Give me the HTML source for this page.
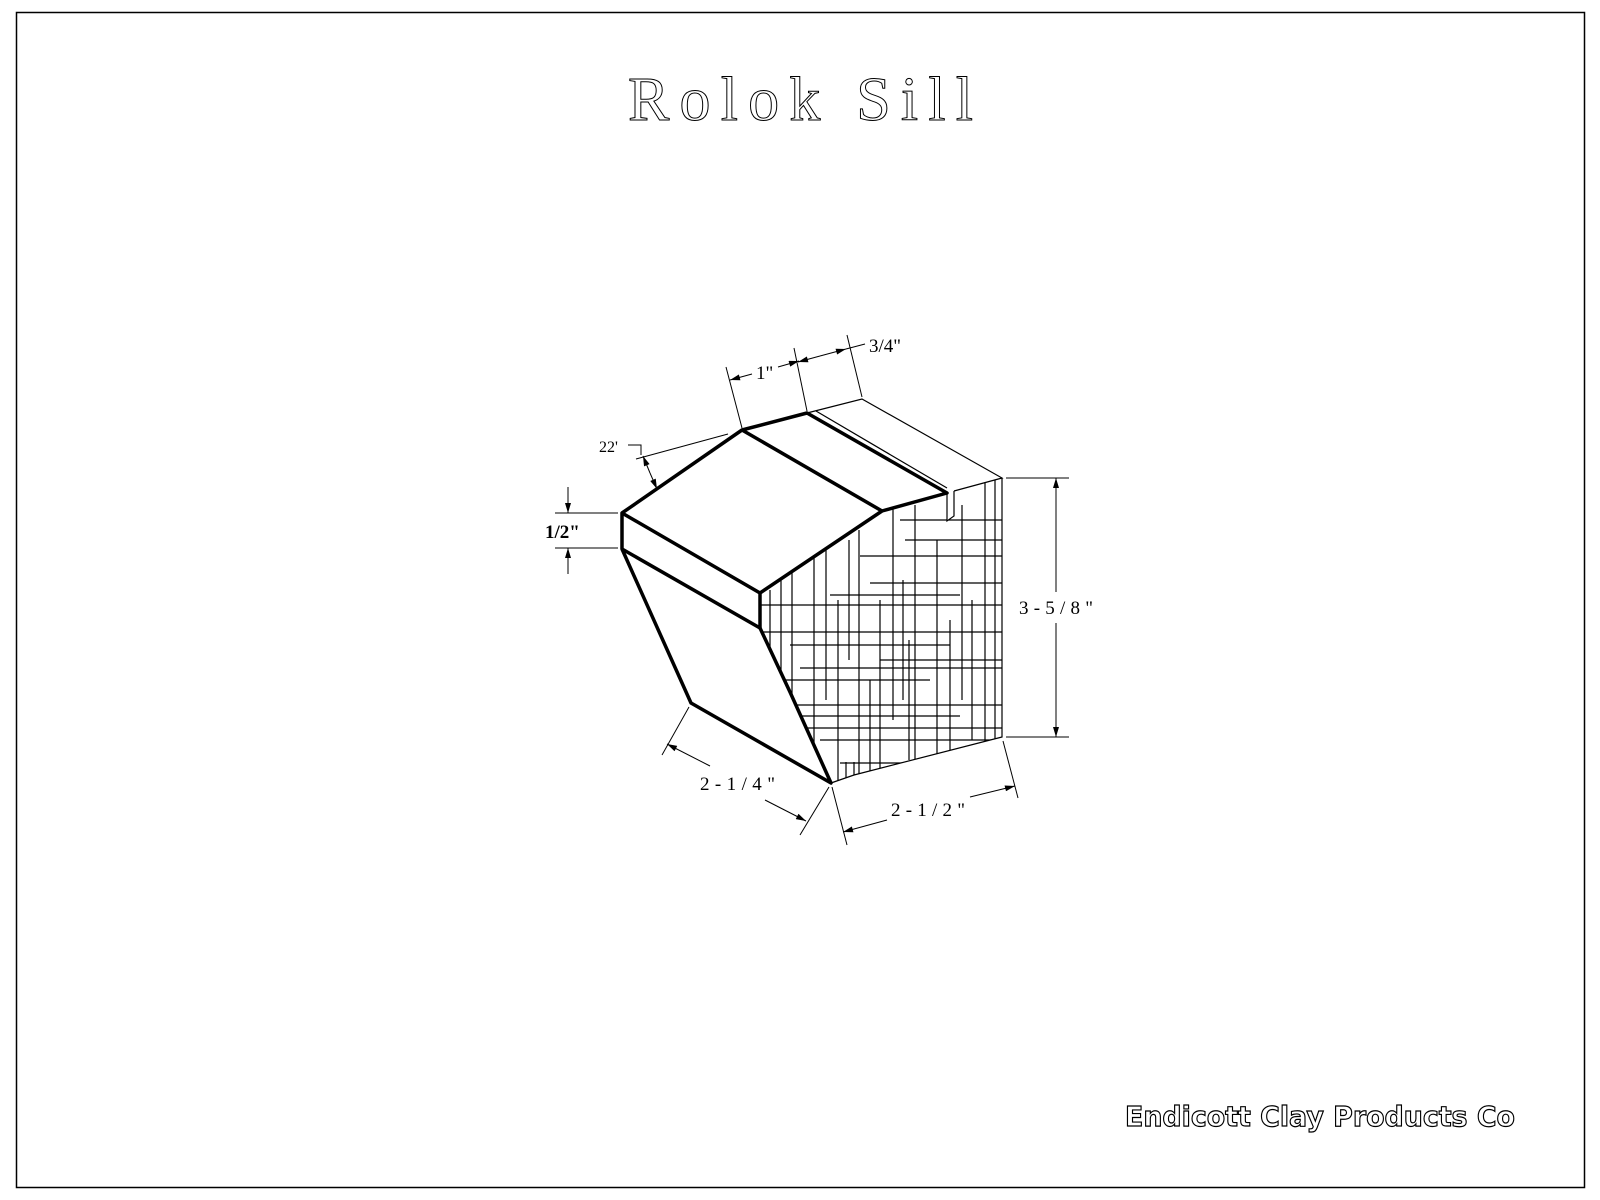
<!DOCTYPE html>
<html><head><meta charset="utf-8"><style>
html,body{margin:0;padding:0;background:#fff;}
svg{display:block}
</style></head><body>
<svg width="1600" height="1200" viewBox="0 0 1600 1200" xmlns="http://www.w3.org/2000/svg">
<defs>
<clipPath id="face"><polygon points="760,593 882,511 947,493 947,521 954,516 954,491 1002,478 1002,737 854,775 831,783 790,692 760,628"/></clipPath>
<marker id="ar" viewBox="0 0 10 6" refX="10" refY="3" markerWidth="11" markerHeight="6" markerUnits="userSpaceOnUse" orient="auto"><path d="M0,0 L10,3 L0,6z" fill="#000"/></marker>
</defs>
<rect x="16.5" y="12.5" width="1568" height="1175" fill="none" stroke="#000" stroke-width="1.5"/>
<text x="628" y="120" font-family="Liberation Serif, serif" font-size="62" fill="none" stroke="#000" stroke-width="1" textLength="345" lengthAdjust="spacing">Rolok  Sill</text>

<!-- hatch -->
<g clip-path="url(#face)" stroke="#000" stroke-width="1.2" fill="none">
<path d="M770,590V783 M781,560V700 M792,560V783 M814,520V783 M826,520V700 M838,600V783 M849,540V660 M859,530V783 M880,600V783 M893,505V720 M903,580V700 M915,505V783 M937,540V783 M950,620V783 M962,505V700 M985,480V783 M995,480V783 M909,640V760 M870,680V783 M826,480V590 M972,600V740"/>
<path d="M760,605H1002 M760,632H1002 M790,645H950 M800,668H1002 M760,680H930 M760,705H1002 M800,716H960 M760,728H1002 M820,740H1002 M840,763H1002 M900,520H1002 M905,540H1002 M860,556H1002 M870,583H1002 M830,595H960 M880,660H1002"/>
</g>

<!-- thin outlines -->
<g stroke="#000" stroke-width="1.2" fill="none">
<polyline points="807,413 862,399 1002,478 954,491"/>
<line x1="816" y1="411" x2="947" y2="488"/>
<polyline points="947,493 947,521 954,516 954,491"/>
<polyline points="831,783 854,775 1002,737 1002,478"/>
<line x1="854" y1="775" x2="854" y2="762"/>
<line x1="846" y1="778" x2="846" y2="762"/>
</g>

<!-- bold edges -->
<g stroke="#000" stroke-width="3.5" fill="none" stroke-linejoin="round">
<polyline points="622,513 742,430 807,413 947,493 882,511 760,593 622,513 622,549 760,628 760,593"/>
<line x1="742" y1="430" x2="882" y2="511"/>
<polyline points="622,549 691,703 831,783 790,692 760,628"/>
</g>

<!-- dimensions -->
<g stroke="#000" stroke-width="1" fill="none">
<line x1="742" y1="428" x2="726" y2="367"/>
<line x1="807" y1="411" x2="794" y2="348"/>
<line x1="862" y1="397" x2="847" y2="335"/>
<line x1="752" y1="374" x2="730" y2="380" marker-end="url(#ar)"/>
<line x1="778" y1="367" x2="799" y2="361" marker-end="url(#ar)"/>
<line x1="820" y1="356" x2="798" y2="362" marker-end="url(#ar)"/>
<line x1="820" y1="356" x2="846" y2="349" marker-end="url(#ar)"/>
<line x1="846" y1="349" x2="865" y2="344"/>
<line x1="636" y1="459" x2="728" y2="434"/>
<polyline points="628,445 641,445 641,455"/>
<line x1="650" y1="473" x2="643" y2="456" marker-end="url(#ar)"/>
<line x1="650" y1="473" x2="657" y2="489" marker-end="url(#ar)"/>
<line x1="555" y1="513" x2="618" y2="513"/>
<line x1="555" y1="548" x2="618" y2="548"/>
<line x1="568" y1="487" x2="568" y2="513" marker-end="url(#ar)"/>
<line x1="568" y1="574" x2="568" y2="548" marker-end="url(#ar)"/>
<line x1="1006" y1="478" x2="1069" y2="478"/>
<line x1="1006" y1="737" x2="1069" y2="737"/>
<line x1="1056" y1="592" x2="1056" y2="478" marker-end="url(#ar)"/>
<line x1="1056" y1="623" x2="1056" y2="737" marker-end="url(#ar)"/>
<line x1="689" y1="707" x2="662" y2="755"/>
<line x1="829" y1="787" x2="800" y2="835"/>
<line x1="710" y1="766" x2="667" y2="744" marker-end="url(#ar)"/>
<line x1="765" y1="800" x2="806" y2="821" marker-end="url(#ar)"/>
<line x1="832" y1="787" x2="847" y2="845"/>
<line x1="1003" y1="741" x2="1018" y2="798"/>
<line x1="887" y1="820" x2="843" y2="832" marker-end="url(#ar)"/>
<line x1="970" y1="797" x2="1015" y2="786" marker-end="url(#ar)"/>
</g>

<g font-family="Liberation Serif, serif" font-size="19" fill="#000">
<text x="756" y="379">1"</text>
<text x="869" y="352">3/4"</text>
<text x="599" y="452" font-size="16">22'</text>
<text x="545" y="538" font-size="19" font-weight="bold">1/2"</text>
<text x="1019" y="614" textLength="74">3-5/8"</text>
<text x="700" y="790" textLength="75">2-1/4"</text>
<text x="891" y="816" textLength="74">2-1/2"</text>
</g>

<text x="1125" y="1126" font-family="DejaVu Sans, sans-serif" font-weight="bold" font-size="28" fill="none" stroke="#000" stroke-width="1.2" textLength="390" lengthAdjust="spacingAndGlyphs">Endicott Clay Products Co</text>
</svg>
</body></html>
